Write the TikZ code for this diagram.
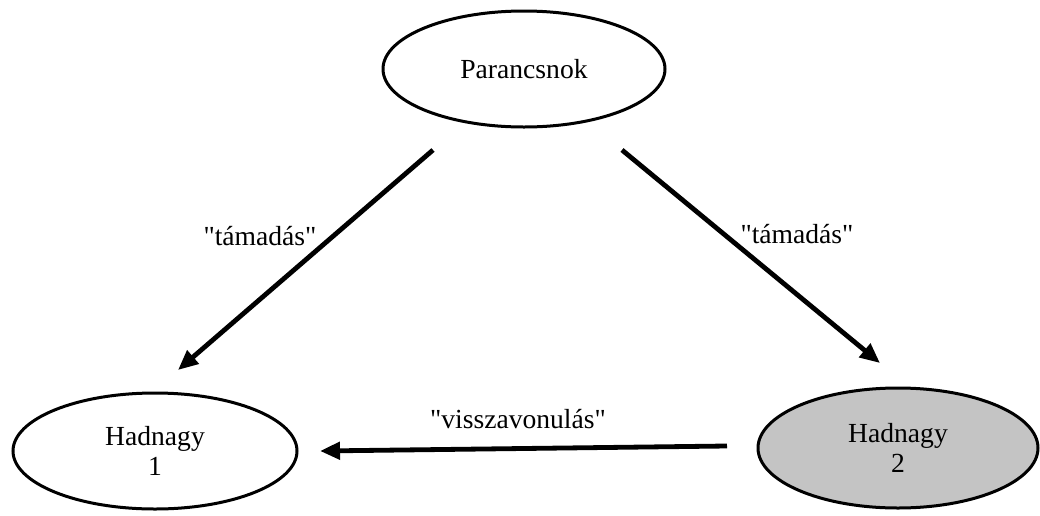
\documentclass[tikz,border=0pt]{standalone}
\usepackage{fontspec}
\setmainfont{Liberation Serif}
\usetikzlibrary{shapes.geometric,arrows.meta}
\newcommand{\q}{\textquotedbl}
\begin{document}
\begin{tikzpicture}[x=0.5pt,y=-0.5pt,
  every node/.style={font=\fontsize{13.8pt}{15pt}\selectfont},
  oval/.style={ellipse,draw=black,line width=1.5pt,inner sep=0pt,align=center},
  link/.style={line width=2.4pt,-{Triangle[length=10pt,width=8.5pt]}},
  lbl/.style={inner sep=0pt}]
\useasboundingbox (0,0) rectangle (1040,515);
\node[oval,minimum width=141pt,minimum height=58pt] (cmd) at (524,69) {Parancsnok};
\node[oval,minimum width=142pt,minimum height=58pt] (h1) at (155,451) {Hadnagy\\1};
\node[oval,fill={rgb,255:red,196;green,196;blue,196},minimum width=140pt,minimum height=60pt] (h2) at (898,448) {Hadnagy\\2};
\coordinate (s1) at (433,150);
\coordinate (e1) at (178,370);
\coordinate (s2) at (622,150);
\coordinate (e2) at (880,363);
\coordinate (s3) at (727,446);
\coordinate (e3) at (320,451);
\draw[link] (s1) -- (e1);
\draw[link] (s2) -- (e2);
\draw[link] (s3) -- (e3);
\node[lbl] (l1) at (260,236) {\q támadás\q};
\node[lbl] (l2) at (797,234) {\q támadás\q};
\node[lbl] (l3) at (518,419) {\q visszavonulás\q};
\end{tikzpicture}
\end{document}
